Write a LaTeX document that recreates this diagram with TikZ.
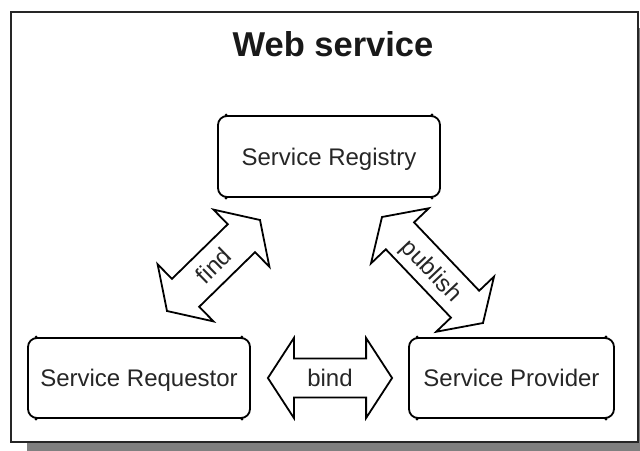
\documentclass[tikz,border=0pt]{standalone}
\usepackage{fontspec}
\setmainfont{Liberation Sans}
\usetikzlibrary{calc}

\tikzset{
  box/.style={draw=black, line width=1.8pt, rounded corners=9pt, fill=white,
    font=\fontsize{24}{28}\selectfont, text=black!85,
    text height=17.2pt, text depth=0pt, inner sep=0pt},
  blockarrow/.style={draw=black, line width=1.8pt, fill=white, line join=miter},
  lbl/.style={font=\fontsize{24}{28}\selectfont, text=black!85,
    inner sep=0pt, text depth=0pt},
  dot/.style={fill=black},
}

% double-headed block arrow between two tip coordinates
\newcommand\dblarrow[2]{%
  \draw[blockarrow] (#1)
    -- ($(#1)!26pt!(#2)!40pt!90:(#2)$)
    -- ($(#1)!26pt!(#2)!19.5pt!90:(#2)$)
    -- ($(#2)!26pt!(#1)!19.5pt!-90:(#1)$)
    -- ($(#2)!26pt!(#1)!40pt!-90:(#1)$)
    -- (#2)
    -- ($(#2)!26pt!(#1)!40pt!90:(#1)$)
    -- ($(#2)!26pt!(#1)!19.5pt!90:(#1)$)
    -- ($(#1)!26pt!(#2)!19.5pt!-90:(#2)$)
    -- ($(#1)!26pt!(#2)!40pt!-90:(#2)$)
    -- cycle;}

% small dots where the straight edges of a box meet its rounded corners
\newcommand\cornerdots[1]{%
  \fill[dot] ([xshift=9pt]#1.north west) circle (1.7pt)
             ([xshift=-9pt]#1.north east) circle (1.7pt)
             ([xshift=9pt]#1.south west) circle (1.7pt)
             ([xshift=-9pt]#1.south east) circle (1.7pt);}

\begin{document}
\begin{tikzpicture}[x=1pt,y=-1pt]
  \useasboundingbox (0,0) rectangle (640,450);
  \fill[white] (0,0) rectangle (640,450);

  % frame with drop shadow
  \fill[black!50] (27,28) rectangle (646,452);
  \draw[fill=white, line width=1.2pt, draw=black!85] (11,12) rectangle (638,442);

  % title
  \node[font=\bfseries\fontsize{34.5}{40}\selectfont, text=black!90, anchor=base]
    (title) at (333,56) {Web service};

  % the three parties
  \node[box, minimum width=222pt, minimum height=81pt] (reg)  at (329,156.5) {Service Registry};
  \node[box, minimum width=222pt, minimum height=80pt] (req)  at (139,378)   {Service Requestor};
  \node[box, minimum width=205pt, minimum height=80pt] (prov) at (511.5,378) {Service Provider};
  \cornerdots{reg}
  \cornerdots{req}
  \cornerdots{prov}

  % arrow end points
  \coordinate (findL) at (167,311);
  \coordinate (findU) at (260,220);
  \coordinate (pubU)  at (382,217);
  \coordinate (pubL)  at (483,323);
  \coordinate (bindL) at ([xshift=17pt]req.east);
  \coordinate (bindR) at ([xshift=-16pt]prov.west);

  \dblarrow{findL}{findU}
  \dblarrow{pubU}{pubL}
  \dblarrow{bindL}{bindR}

  \path (findL) -- (findU) node[midway, sloped, lbl] (findlbl) {find};
  \path (pubU) -- (pubL) node[midway, sloped, lbl] (publbl) {publish};
  \path (bindL) -- (bindR) node[midway, lbl] (bindlbl) {bind};
\end{tikzpicture}
\end{document}
